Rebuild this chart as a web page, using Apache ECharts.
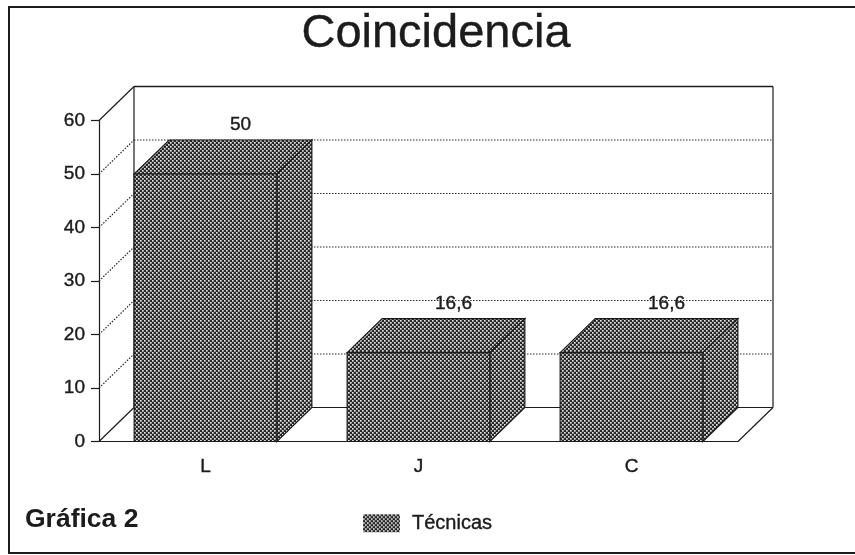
<!DOCTYPE html>
<html>
<head>
<meta charset="utf-8">
<style>
  html, body { margin: 0; padding: 0; background: #fff; }
  #chart { width: 855px; height: 555px; }
</style>
<script src="https://cdn.jsdelivr.net/npm/echarts@6/dist/echarts.min.js"></script>
</head>
<body>
<div id="chart"></div>
<script>
const categories = ['L', 'J', 'C']
const tecnicas = [50, 16.6, 16.6]
const valueLabels = ['50', '16,6', '16,6']
const yTicks = [10, 20, 30, 40, 50]

const INK = '#1c1c1c'
const FONT = 'Liberation Sans'
// oblique offset of the 3D box
const DX = 35
const DY = -34
// scanned text prints a bit heavier than the regular weight
const heavy = { textBorderColor: INK, textBorderWidth: 0.4 }

// dark dotted screen of the scanned print
function makePattern() {
  const c = document.createElement('canvas')
  c.width = 4
  c.height = 4
  const g = c.getContext('2d')
  g.fillStyle = '#262626'
  g.fillRect(0, 0, 4, 4)
  g.fillStyle = '#e2e2e2'
  g.fillRect(0, 0, 1.7, 1.7)
  g.fillRect(2, 2, 1.7, 1.7)
  return { image: c, repeat: 'repeat' }
}
const pattern = makePattern()

const chart = echarts.init(document.getElementById('chart'))

function line(x1, y1, x2, y2, style) {
  return { type: 'line', shape: { x1, y1, x2, y2 }, style: Object.assign({ stroke: INK, lineWidth: 1.2 }, style) }
}

// back wall, floor and dotted gridlines
function renderWall(params, api) {
  const cs = params.coordSys
  const x0 = cs.x, x1 = cs.x + cs.width
  const yTop = cs.y, yBot = cs.y + cs.height
  const dotted = { lineDash: [1.5, 1.5], lineWidth: 1.2, stroke: '#2a2a2a' }
  const kids = [
    line(x0 + DX, yTop + DY, x1 + DX, yTop + DY, { lineWidth: 1.5 }),
    line(x0 + DX, yTop + DY, x0 + DX, yBot + DY),
    line(x1 + DX, yTop + DY, x1 + DX, yBot + DY),
    line(x0, yTop, x0 + DX, yTop + DY),
    line(x0, yBot, x0 + DX, yBot + DY),
    line(x1, yBot, x1 + DX, yBot + DY),
    line(x0 + DX, yBot + DY, x1 + DX, yBot + DY)
  ]
  yTicks.forEach(v => {
    const y = api.coord([0, v])[1]
    kids.push(line(x0, y, x0 + DX, y + DY, dotted))
    kids.push(line(x0 + DX, y + DY, x1 + DX, y + DY, dotted))
  })
  return { type: 'group', children: kids }
}

function renderBox(params, api) {
  const idx = api.value(0)
  const val = api.value(1)
  const top = api.coord([idx, val])
  const base = api.coord([idx, 0])
  const w = api.size([1, 0])[0] * 0.67
  const l = top[0] - w / 2, r = top[0] + w / 2
  const t = top[1], b = base[1]
  const st = { fill: pattern, stroke: INK, lineWidth: 1.2 }
  return {
    type: 'group',
    children: [
      { type: 'polygon', shape: { points: [[l, t], [l + DX, t + DY], [r + DX, t + DY], [r, t]] }, style: st },
      { type: 'polygon', shape: { points: [[r, t], [r + DX, t + DY], [r + DX, b + DY], [r, b]] }, style: st },
      { type: 'rect', shape: { x: l, y: t, width: w, height: b - t }, style: st },
      {
        type: 'text',
        style: Object.assign({
          x: top[0] + DX, y: t + DY - 15,
          text: valueLabels[idx],
          font: '19px ' + FONT, fill: INK, align: 'center', verticalAlign: 'middle'
        }, { stroke: INK, lineWidth: 0.4 })
      }
    ]
  }
}

chart.setOption({
  animation: false,
  backgroundColor: '#fff',
  title: {
    text: 'Coincidencia',
    left: 431, top: 6, textAlign: 'center',
    textStyle: Object.assign({ fontFamily: FONT, fontWeight: 'normal', fontSize: 47, color: INK }, heavy)
  },
  legend: {
    left: 363, top: 513, padding: 0,
    itemWidth: 37, itemHeight: 18, itemGap: 7,
    data: [{ name: 'Técnicas', icon: 'rect', itemStyle: { color: pattern, borderWidth: 0 } }],
    textStyle: Object.assign({ fontFamily: FONT, fontSize: 20, color: INK, padding: [6, 0, 0, 7] }, heavy)
  },
  grid: { left: 99, right: 117, top: 120.5, bottom: 113.5 },
  xAxis: {
    type: 'category',
    data: categories,
    axisLine: { lineStyle: { color: INK, width: 1.2 } },
    axisTick: { alignWithLabel: true, length: 8, lineStyle: { color: INK, width: 1.2 } },
    axisLabel: Object.assign({ fontFamily: FONT, fontSize: 19, color: INK, margin: 16 }, heavy)
  },
  yAxis: {
    type: 'value', min: 0, max: 60, interval: 10,
    splitLine: { show: false },
    axisLine: { show: true, lineStyle: { color: INK, width: 1.2 } },
    axisTick: { show: true, length: 8, lineStyle: { color: INK, width: 1.2 } },
    axisLabel: Object.assign({ fontFamily: FONT, fontSize: 19, color: INK, margin: 14 }, heavy)
  },
  graphic: [
    // the scan cuts the frame off on the right
    { type: 'polyline', shape: { points: [[855, 7], [9, 7], [9, 553], [855, 553]] }, style: { fill: 'none', stroke: INK, lineWidth: 2 }, silent: true },
    { type: 'text', style: { x: 25, y: 520, text: 'Gráfica 2', font: 'bold 26.5px ' + FONT, fill: INK, verticalAlign: 'middle' } }
  ],
  series: [
    { type: 'custom', name: 'wall', silent: true, renderItem: renderWall, data: [[0, 0]], encode: { x: 0, y: 1 }, z: 1 },
    {
      type: 'custom', name: 'Técnicas', renderItem: renderBox, z: 2,
      itemStyle: { color: pattern },
      data: tecnicas.map((v, i) => [i, v]),
      encode: { x: 0, y: 1 }
    }
  ]
})
</script>
</body>
</html>
